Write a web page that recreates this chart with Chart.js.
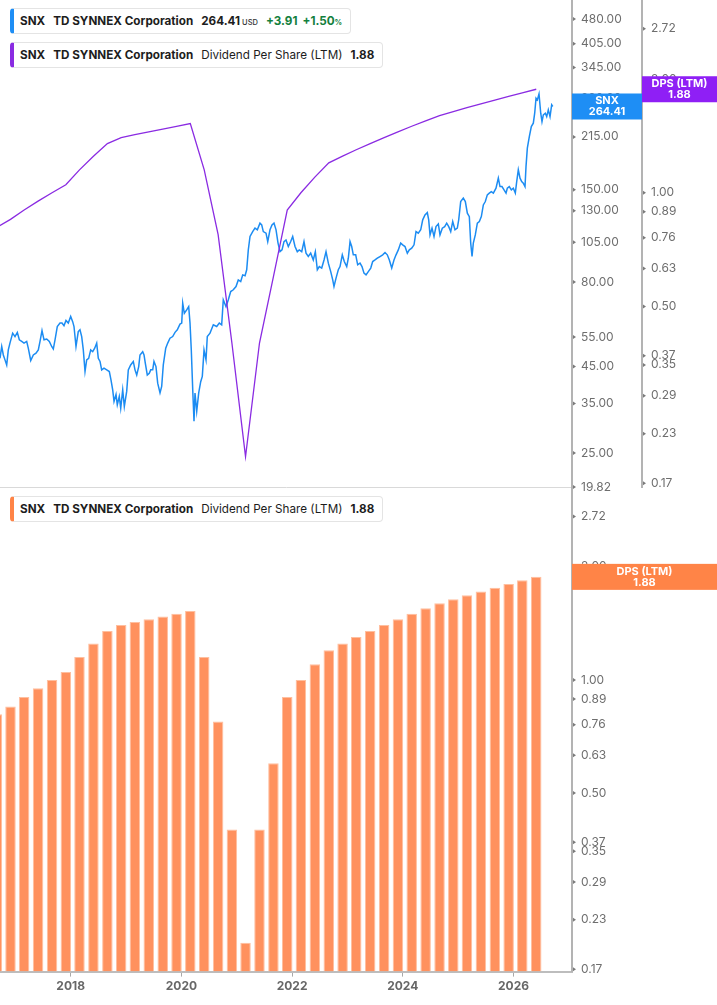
<!DOCTYPE html>
<html>
<head>
<meta charset="utf-8">
<title>SNX - Dividend Per Share (LTM)</title>
<script src="https://cdn.jsdelivr.net/npm/chart.js@4.4.1/dist/chart.umd.min.js"></script>
<style>
  html, body { margin: 0; padding: 0; background: #fff; }
  body { position: relative; width: 717px; height: 1005px; overflow: hidden; font-family: Inter, "Noto Sans", sans-serif; }
  #priceWrap { position: absolute; left: 0; top: 0; width: 717px; height: 500px; }
  #dpsWrap { position: absolute; left: 0; top: 487px; width: 717px; height: 518px; }
  .legend {
    position: absolute; left: 10px; z-index: 2; box-sizing: border-box; height: 26px;
    display: flex; align-items: center; white-space: nowrap;
    padding: 0 8px 0 6px; background: #fff; border: 1px solid #e4e4e4; border-radius: 4px;
    font-size: 11.7px; color: #1d1d1d;
  }
  .legend b { font-weight: 700; margin-right: 8px; }
  .legend .unit { font-size: 7.5px; font-weight: 500; margin: 3px 8px 0 2px; color: #333; }
  .legend .up { color: #13803d; font-weight: 700; margin-right: 5px; }
  .legend .up small { font-size: 7.5px; }
  .legend .txt { margin-right: 8px; }
  .legend b:last-child, .legend .up:last-child { margin-right: 0; }
</style>
</head>
<body>
<div class="legend" style="top:8px;border-left:4px solid #1e8ef5;">
  <b>SNX</b><b>TD SYNNEX Corporation</b><b style="margin-right:0">264.41</b><span class="unit">USD</span><span class="up">+3.91</span><span class="up">+1.50<small>%</small></span>
</div>
<div class="legend" style="top:42px;border-left:4px solid #8a2be2;">
  <b>SNX</b><b>TD SYNNEX Corporation</b><span class="txt">Dividend Per Share (LTM)</span><b>1.88</b>
</div>
<div class="legend" style="top:496px;border-left:4px solid #ff8447;">
  <b>SNX</b><b>TD SYNNEX Corporation</b><span class="txt">Dividend Per Share (LTM)</span><b>1.88</b>
</div>
<div id="priceWrap"><canvas id="priceChart"></canvas></div>
<div id="dpsWrap"><canvas id="dpsChart"></canvas></div>
<script>
// SNX share price (USD); times are decimal years
const priceYears = [
  2016.723, 2016.754, 2016.783, 2016.813, 2016.844, 2016.873, 2016.904, 2016.952, 2016.994, 2017.036,
  2017.072, 2017.115, 2017.157, 2017.205, 2017.234, 2017.278, 2017.325, 2017.373, 2017.415, 2017.446,
  2017.482, 2017.518, 2017.567, 2017.614, 2017.657, 2017.686, 2017.717, 2017.758, 2017.807, 2017.843,
  2017.879, 2017.915, 2017.957, 2018.000, 2018.036, 2018.060, 2018.096, 2018.137, 2018.168, 2018.199,
  2018.228, 2018.259, 2018.289, 2018.325, 2018.362, 2018.398, 2018.434, 2018.470, 2018.499, 2018.530,
  2018.560, 2018.602, 2018.651, 2018.698, 2018.728, 2018.759, 2018.783, 2018.819, 2018.842, 2018.878,
  2018.904, 2018.940, 2018.969, 2019.012, 2019.041, 2019.084, 2019.131, 2019.162, 2019.193, 2019.229,
  2019.252, 2019.301, 2019.325, 2019.348, 2019.384, 2019.420, 2019.446, 2019.482, 2019.505, 2019.541,
  2019.572, 2019.614, 2019.644, 2019.673, 2019.717, 2019.753, 2019.794, 2019.843, 2019.885, 2019.926,
  2019.975, 2020.006, 2020.024, 2020.053, 2020.096, 2020.132, 2020.156, 2020.179, 2020.205, 2020.228,
  2020.246, 2020.277, 2020.313, 2020.349, 2020.378, 2020.409, 2020.445, 2020.468, 2020.517, 2020.577,
  2020.638, 2020.685, 2020.728, 2020.757, 2020.806, 2020.848, 2020.891, 2020.938, 2020.987, 2021.028,
  2021.072, 2021.108, 2021.150, 2021.180, 2021.209, 2021.240, 2021.288, 2021.330, 2021.372, 2021.420,
  2021.451, 2021.480, 2021.529, 2021.560, 2021.601, 2021.637, 2021.673, 2021.710, 2021.746, 2021.782,
  2021.818, 2021.854, 2021.890, 2021.932, 2021.975, 2022.011, 2022.053, 2022.094, 2022.130, 2022.174,
  2022.215, 2022.252, 2022.293, 2022.336, 2022.383, 2022.420, 2022.456, 2022.492, 2022.535, 2022.577,
  2022.613, 2022.655, 2022.698, 2022.734, 2022.757, 2022.794, 2022.835, 2022.866, 2022.907, 2022.943,
  2022.987, 2023.016, 2023.047, 2023.077, 2023.106, 2023.149, 2023.185, 2023.227, 2023.263, 2023.299,
  2023.336, 2023.377, 2023.421, 2023.456, 2023.498, 2023.540, 2023.588, 2023.637, 2023.679, 2023.720,
  2023.757, 2023.800, 2023.841, 2023.878, 2023.919, 2023.962, 2023.998, 2024.040, 2024.082, 2024.118,
  2024.161, 2024.203, 2024.239, 2024.280, 2024.324, 2024.360, 2024.401, 2024.443, 2024.468, 2024.492,
  2024.528, 2024.564, 2024.600, 2024.642, 2024.672, 2024.714, 2024.757, 2024.793, 2024.830, 2024.866,
  2024.902, 2024.943, 2024.985, 2025.010, 2025.046, 2025.093, 2025.130, 2025.166, 2025.202, 2025.227,
  2025.251, 2025.274, 2025.310, 2025.347, 2025.383, 2025.419, 2025.455, 2025.491, 2025.527, 2025.563,
  2025.599, 2025.636, 2025.684, 2025.726, 2025.756, 2025.792, 2025.829, 2025.865, 2025.888, 2025.924,
  2025.961, 2025.997, 2026.033, 2026.058, 2026.087, 2026.118, 2026.148, 2026.177, 2026.208, 2026.226,
  2026.250, 2026.286, 2026.322, 2026.358, 2026.383, 2026.407, 2026.431, 2026.461, 2026.492, 2026.515,
  2026.539, 2026.575, 2026.600, 2026.629, 2026.660, 2026.690, 2026.709
];
const priceValues = [
  47.6, 51.6, 48.7, 47.1, 45.5, 50.4, 52.9, 56.5, 55.2, 56.8,
  54.0, 53.4, 52.8, 53.4, 51.0, 46.9, 48.7, 49.3, 50.4, 53.4,
  57.5, 54.0, 54.3, 53.4, 51.6, 50.7, 54.0, 59.1, 60.5, 60.5,
  59.4, 61.6, 60.5, 63.3, 61.1, 59.1, 51.6, 57.1, 57.8, 55.2,
  50.4, 43.5, 47.1, 47.6, 50.4, 49.8, 51.0, 52.8, 47.6, 46.6,
  44.0, 44.5, 44.0, 43.5, 41.1, 38.4, 35.5, 37.2, 34.7, 36.7,
  33.9, 38.4, 34.3, 38.0, 44.0, 45.5, 46.6, 44.0, 42.5, 45.0,
  48.7, 49.8, 48.7, 46.1, 42.5, 43.0, 44.0, 44.0, 46.6, 45.0,
  40.2, 37.6, 39.3, 45.5, 51.0, 52.8, 54.6, 55.2, 56.8, 57.8,
  60.1, 60.5, 69.3, 64.7, 66.2, 67.7, 60.5, 50.4, 38.4, 31.0,
  37.6, 33.2, 37.6, 40.6, 42.1, 50.4, 47.1, 55.2, 56.5, 59.8,
  59.1, 60.5, 59.8, 70.9, 67.7, 70.9, 75.0, 75.9, 77.6, 81.2,
  80.3, 84.0, 83.5, 87.0, 99.6, 109.1, 112.8, 115.5, 114.2, 119.5,
  118.1, 112.8, 111.6, 105.4, 114.2, 118.1, 119.5, 114.2, 104.3, 98.4,
  99.6, 105.4, 106.6, 101.9, 105.4, 109.1, 101.9, 98.4, 99.6, 98.4,
  105.4, 97.4, 95.2, 97.4, 93.0, 98.4, 87.0, 88.9, 88.0, 93.0,
  98.4, 91.0, 85.9, 81.2, 77.6, 82.2, 87.0, 88.9, 96.3, 92.0,
  88.9, 94.1, 105.4, 101.9, 96.3, 96.3, 90.0, 91.0, 88.9, 85.0,
  84.0, 85.9, 88.0, 92.0, 93.0, 94.1, 95.2, 96.3, 97.8, 96.3,
  93.0, 88.0, 93.0, 96.3, 99.6, 104.3, 103.1, 101.9, 97.4, 99.6,
  100.8, 103.1, 112.8, 111.6, 114.2, 122.2, 126.4, 128.4, 122.2, 110.3,
  115.5, 109.1, 116.7, 118.9, 110.3, 115.5, 116.7, 119.5, 116.7, 112.8,
  120.8, 114.2, 115.5, 122.2, 138.4, 141.7, 138.4, 127.9, 124.9, 104.3,
  95.2, 104.3, 110.3, 119.5, 120.8, 124.9, 135.3, 138.4, 144.9, 146.6,
  148.1, 146.6, 151.6, 162.3, 153.3, 153.3, 149.9, 146.6, 151.6, 153.3,
  149.9, 151.6, 146.6, 158.6, 171.8, 162.3, 158.6, 156.9, 153.3, 175.6,
  199.1, 215.4, 230.6, 236.0, 252.6, 279.8, 276.6, 288.1, 252.6, 238.6,
  249.7, 252.6, 246.8, 258.4, 246.8, 267.3, 264.41
];

// Dividend per share (LTM) at fiscal quarter ends
const dpsDates = [
  "2016-08-31", "2016-11-30",
  "2017-02-28", "2017-05-31", "2017-08-31", "2017-11-30",
  "2018-02-28", "2018-05-31", "2018-08-31", "2018-11-30",
  "2019-02-28", "2019-05-31", "2019-08-31", "2019-11-30",
  "2020-02-29", "2020-05-31", "2020-08-31", "2020-11-30",
  "2021-02-28", "2021-05-31", "2021-08-31", "2021-11-30",
  "2022-02-28", "2022-05-31", "2022-08-31", "2022-11-30",
  "2023-02-28", "2023-05-31", "2023-08-31", "2023-11-30",
  "2024-02-29", "2024-05-31", "2024-08-31", "2024-11-30",
  "2025-02-28", "2025-05-31", "2025-08-31", "2025-11-30",
  "2026-02-28", "2026-05-31"
];
const dpsValues = [
  0.81, 0.85,
  0.90, 0.95, 1.00, 1.05,
  1.15, 1.25, 1.35, 1.40,
  1.425, 1.45, 1.475, 1.50,
  1.525, 1.15, 0.775, 0.40,
  0.20, 0.40, 0.60, 0.90,
  1.00, 1.10, 1.20, 1.25,
  1.30, 1.35, 1.40, 1.45,
  1.50, 1.55, 1.60, 1.64,
  1.68, 1.72, 1.76, 1.80,
  1.84, 1.88
];

const priceTicks = [480, 405, 345, 280, 215, 150, 130, 105, 80, 55, 45, 35, 25, 19.82];
const dpsTicks = [2.72, 2.0, 1.0, 0.89, 0.76, 0.63, 0.5, 0.37, 0.35, 0.29, 0.23, 0.17];
const yearTicks = [2018, 2020, 2022, 2024, 2026];

const lastPrice = 264.41;
const lastDps = 1.88;

Chart.defaults.font.family = 'Inter, "Noto Sans", sans-serif';

const toYear = (s) => {
  const d = new Date(s + "T00:00:00Z");
  const y = d.getUTCFullYear();
  const start = Date.UTC(y, 0, 1);
  const end = Date.UTC(y + 1, 0, 1);
  return y + (d.getTime() - start) / (end - start);
};

const pricePoints = priceYears.map((x, i) => ({ x, y: priceValues[i] }));
const dpsPoints = dpsDates.map((d, i) => ({ x: toYear(d), y: dpsValues[i] }));

const xMin = 2016.723;
const xMax = 2027.057;

// fixed axis width, and no extra padding for the edge labels
const fixWidth = (w) => (scale) => {
  scale.width = w;
  scale.paddingTop = 0;
  scale.paddingBottom = 0;
};
const useTicks = (list) => (scale) => {
  scale.ticks = list.map((v) => ({ value: v }));
};

const valueAxis = (ticks, min, max, width, weight) => ({
  type: "logarithmic",
  position: "right",
  weight: weight,
  min: min,
  max: max,
  bounds: "data",
  afterBuildTicks: useTicks(ticks),
  afterFit: fixWidth(width),
  grid: { display: false, drawTicks: false },
  border: { display: true, color: "#b3b3b3", width: 2 },
  ticks: {
    padding: 9,
    autoSkip: false,
    color: "#6e6e6e",
    font: { size: 12 },
    callback: (value) => Number(value).toFixed(2),
  },
});

// little arrow heads on the value axes
const tickMarks = {
  id: "tickMarks",
  afterDraw(chart) {
    const ctx = chart.ctx;
    ctx.save();
    ctx.fillStyle = "#7a7a7a";
    Object.values(chart.scales).forEach((scale) => {
      if (scale.axis !== "y") return;
      scale.ticks.forEach((t) => {
        const y = scale.getPixelForValue(t.value);
        const x = scale.left + 1;
        ctx.beginPath();
        ctx.moveTo(x, y - 2);
        ctx.lineTo(x + 3, y);
        ctx.lineTo(x, y + 2);
        ctx.closePath();
        ctx.fill();
      });
    });
    ctx.restore();
  },
};

// coloured last-value tags on the axes
const valueTags = {
  id: "valueTags",
  afterDraw(chart, args, opts) {
    const ctx = chart.ctx;
    (opts.tags || []).forEach((tag) => {
      const scale = chart.scales[tag.scale];
      const y = scale.getPixelForValue(tag.value);
      const x0 = scale.left;
      const x1 = tag.toEdge ? chart.width : scale.right;
      const h = 26;
      ctx.save();
      ctx.fillStyle = tag.color;
      ctx.fillRect(x0, y - h / 2, x1 - x0, h);
      ctx.fillStyle = "#fff";
      ctx.font = 'bold 11px Inter, "Noto Sans", sans-serif';
      ctx.textAlign = "center";
      ctx.textBaseline = "middle";
      ctx.fillText(tag.lines[0], (x0 + x1) / 2, y - 5.5);
      ctx.fillText(tag.lines[1], (x0 + x1) / 2, y + 5.5);
      ctx.restore();
    });
  },
};

// Preço e dividendos (painel superior)
const priceChartElement = document.getElementById("priceChart");
if (priceChartElement) {
  new Chart(priceChartElement.getContext("2d"), {
    type: "line",
    data: {
      datasets: [
        {
          label: "Dividend Per Share (LTM)",
          data: dpsPoints,
          yAxisID: "dps",
          borderColor: "#8a2be2",
          borderWidth: 1.3,
          pointRadius: 0,
          tension: 0,
        },
        {
          label: "SNX",
          data: pricePoints,
          yAxisID: "price",
          borderColor: "#1c8cf2",
          borderWidth: 1.5,
          pointRadius: 0,
          tension: 0,
        },
      ],
    },
    options: {
      responsive: true,
      maintainAspectRatio: false,
      animation: false,
      layout: { padding: { left: 0, top: 0, right: 0, bottom: 13 } },
      plugins: {
        legend: { display: false },
        tooltip: { enabled: false },
        valueTags: {
          tags: [
            { scale: "price", value: lastPrice, color: "#1e8ef5", lines: ["SNX", lastPrice.toFixed(2)] },
            { scale: "dps", value: lastDps, color: "#8f1ff5", lines: ["DPS (LTM)", lastDps.toFixed(2)], toEdge: true },
          ],
        },
      },
      scales: {
        x: {
          type: "linear",
          min: xMin,
          max: xMax,
          offset: false,
          grid: { display: false, drawTicks: false },
          ticks: { display: false },
          border: { display: true, color: "#d9d9d9", width: 1 },
        },
        price: valueAxis(priceTicks, 19.82, 546, 70, 1),
        dps: valueAxis(dpsTicks, 0.1662, 3.24, 75, 2),
      },
    },
    plugins: [tickMarks, valueTags],
  });
}

// Dividendos por ação (painel inferior)
const dpsChartElement = document.getElementById("dpsChart");
if (dpsChartElement) {
  new Chart(dpsChartElement.getContext("2d"), {
    type: "bar",
    data: {
      datasets: [
        {
          label: "Dividend Per Share (LTM)",
          data: dpsPoints,
          backgroundColor: "#ff915e",
          borderColor: "#ffbf9f",
          borderWidth: 1,
          barPercentage: 0.77,
          categoryPercentage: 1,
        },
      ],
    },
    options: {
      responsive: true,
      maintainAspectRatio: false,
      animation: false,
      layout: { padding: { left: 0, top: 0, right: 0, bottom: 8 } },
      plugins: {
        legend: { display: false },
        tooltip: { enabled: false },
        valueTags: {
          tags: [
            { scale: "y", value: lastDps, color: "#ff8447", lines: ["DPS (LTM)", lastDps.toFixed(2)], toEdge: true },
          ],
        },
      },
      scales: {
        x: {
          type: "linear",
          min: xMin,
          max: xMax,
          offset: false,
          afterBuildTicks: useTicks(yearTicks),
          grid: { display: true, drawOnChartArea: false, drawTicks: true, tickLength: 5, color: "#a8a8a8", offset: false },
          border: { display: true, color: "#bdbdbd", width: 2 },
          ticks: {
            color: "#676767",
            font: { size: 12, weight: "bold" },
            padding: 3,
            maxRotation: 0,
            autoSkip: false,
            callback: (value) => String(value),
          },
        },
        y: valueAxis(dpsTicks, 0.1675, 3.26, 145, 1),
      },
    },
    plugins: [tickMarks, valueTags],
  });
}
</script>
</body>
</html>
